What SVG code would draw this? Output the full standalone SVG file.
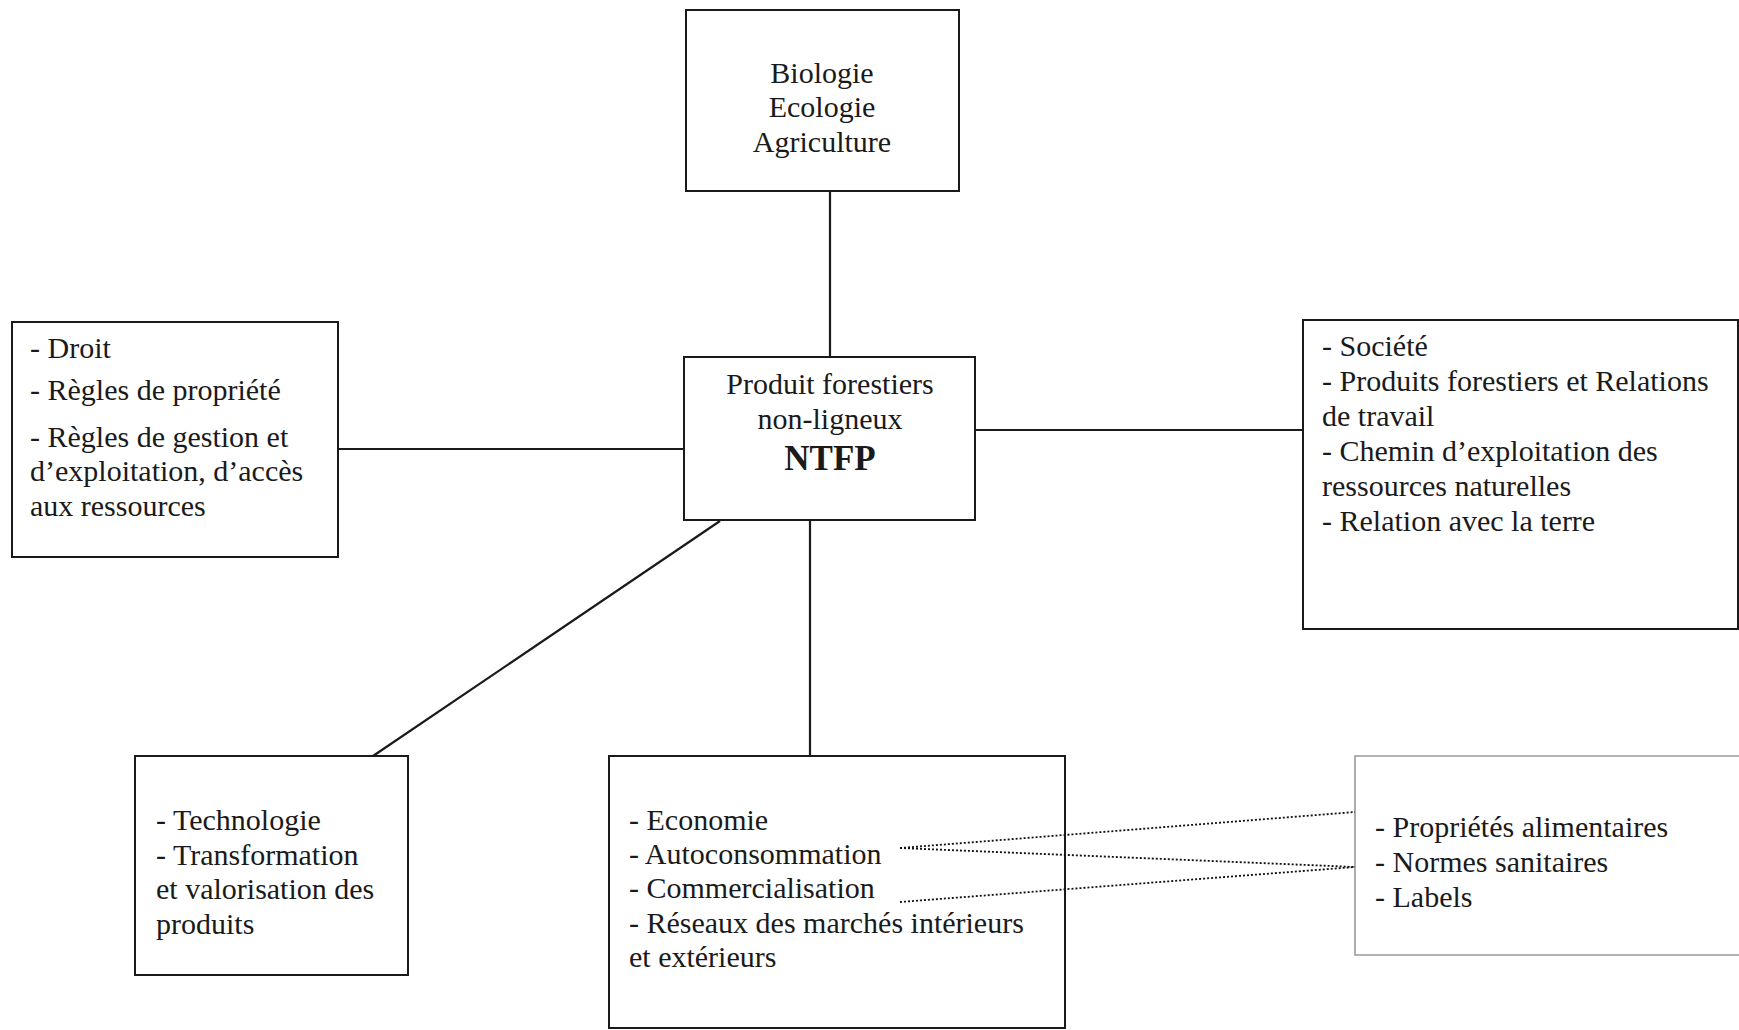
<svg xmlns="http://www.w3.org/2000/svg" width="1739" height="1030" viewBox="0 0 1739 1030">
<style>
.box{fill:#fff;stroke:#1a1a1a;stroke-width:2}
.gbox{fill:none;stroke:#9a9a9a;stroke-width:1.6}
.t{font-family:"Liberation Serif","Times New Roman",serif;font-size:30px;fill:#1a1a1a}
.c{text-anchor:middle}
.b{font-weight:bold;font-size:35px}
.ln{stroke:#1a1a1a;stroke-width:2.2;fill:none}
.dot{stroke:#111;stroke-width:1.8;stroke-dasharray:2 2;fill:none}
</style>
<rect width="1739" height="1030" fill="#fff"/>
<g id="connectors">
<line class="ln" x1="830" y1="191" x2="830" y2="357"/>
<line class="ln" x1="338" y1="449" x2="684" y2="449"/>
<line class="ln" x1="975" y1="430" x2="1303" y2="430"/>
<line class="ln" x1="720" y1="521" x2="373" y2="756"/>
<line class="ln" x1="810" y1="520" x2="810" y2="756"/>
</g>
<g id="n-bio">
<rect class="box" x="686" y="10" width="273" height="181"/>
<text class="t c" x="822" y="83">Biologie</text>
<text class="t c" x="822" y="117">Ecologie</text>
<text class="t c" x="822" y="152">Agriculture</text>
</g>
<g id="n-ntfp">
<rect class="box" x="684" y="357" width="291" height="163"/>
<text class="t c" x="830" y="394">Produit forestiers</text>
<text class="t c" x="830" y="429">non-ligneux</text>
<text class="t c b" x="830" y="470">NTFP</text>
</g>
<g id="n-droit">
<rect class="box" x="12" y="322" width="326" height="235"/>
<text class="t" x="30" y="358">- Droit</text>
<text class="t" x="30" y="400">- Règles de propriété</text>
<text class="t" x="30" y="447">- Règles de gestion et</text>
<text class="t" x="30" y="481">d’exploitation, d’accès</text>
<text class="t" x="30" y="516">aux ressources</text>
</g>
<g id="n-societe">
<rect class="box" x="1303" y="320" width="435" height="309"/>
<text class="t" x="1322" y="356">- Société</text>
<text class="t" x="1322" y="391">- Produits forestiers et Relations</text>
<text class="t" x="1322" y="426">de travail</text>
<text class="t" x="1322" y="461">- Chemin d’exploitation des</text>
<text class="t" x="1322" y="496">ressources naturelles</text>
<text class="t" x="1322" y="531">- Relation avec la terre</text>
</g>
<g id="n-techno">
<rect class="box" x="135" y="756" width="273" height="219"/>
<text class="t" x="156" y="830">- Technologie</text>
<text class="t" x="156" y="865">- Transformation</text>
<text class="t" x="156" y="899">et valorisation des</text>
<text class="t" x="156" y="934">produits</text>
</g>
<g id="n-eco">
<rect class="box" x="609" y="756" width="456" height="272"/>
<text class="t" x="629" y="830">- Economie</text>
<text class="t" x="629" y="864">- Autoconsommation</text>
<text class="t" x="629" y="898">- Commercialisation</text>
<text class="t" x="629" y="933">- Réseaux des marchés intérieurs</text>
<text class="t" x="629" y="967">et extérieurs</text>
</g>
<g id="n-normes">
<path class="gbox" d="M1739 756 H1355 V955 H1739"/>
<text class="t" x="1375" y="837">- Propriétés alimentaires</text>
<text class="t" x="1375" y="872">- Normes sanitaires</text>
<text class="t" x="1375" y="907">- Labels</text>
</g>
<g id="dotted-connectors">
<line class="dot" x1="900" y1="848" x2="1355" y2="812"/>
<line class="dot" x1="900" y1="848" x2="1355" y2="867"/>
<line class="dot" x1="900" y1="902" x2="1355" y2="867"/>
</g>
</svg>
